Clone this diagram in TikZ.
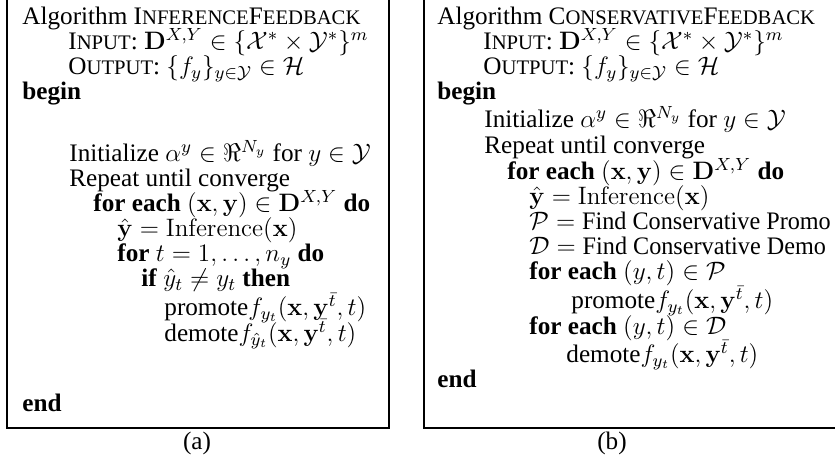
\RequirePackage{fix-cm}
\documentclass[tikz,border=0pt,11pt]{standalone}
\usepackage{graphicx}
\usepackage[no-math]{fontspec}
\setmainfont{Liberation Serif}
\newfontfamily\scf[Scale=0.82]{Liberation Serif}
\newcommand\SC[2]{#1{\scf #2}}
\newcommand\findtxt[1]{\scalebox{0.96}[1]{#1}}
\begin{document}
\begin{tikzpicture}[x=0.5pt,y=-0.5pt,
  ln/.style={anchor=base west, inner sep=0pt, font=\fontsize{12.6}{15}\selectfont},
  sublabel/.style={anchor=base, inner sep=0pt, font=\fontsize{12.6}{15}\selectfont},
  frame/.style={line width=1pt}]
\clip (0,0) rectangle (835,459);
\fill[white] (0,0) rectangle (835,459);
% frames
\draw[frame] (6.5,-10) -- (6.5,428) -- (389,428) -- (389,-10);
\draw[frame] (423.5,-10) -- (423.5,428) -- (850,428);
% ---------- (a)
\node[ln] (a1) at (22,25) {Algorithm \SC{I}{NFERENCE}\SC{F}{EEDBACK}};
\node[ln] (a2) at (68,50) {\SC{I}{NPUT}: $\mathbf{D}^{X,Y} \in \{\mathcal{X}^* \times \mathcal{Y}^*\}^m$};
\node[ln] (a3) at (68,75) {\SC{O}{UTPUT}: $\{f_y\}_{y\in\mathcal{Y}} \in \mathcal{H}$};
\node[ln] (a4) at (22,100) {\textbf{begin}};
\node[ln] (a5) at (69,162) {Initialize $\alpha^y \in \Re^{N_y}$ for $y \in \mathcal{Y}$};
\node[ln] (a6) at (69,187) {Repeat until converge};
\node[ln] (a7) at (93,212) {\textbf{for each} $(\mathbf{x},\mathbf{y}) \in \mathbf{D}^{X,Y}$ \textbf{do}};
\node[ln] (a8) at (117,237) {$\hat{\mathbf{y}} = \mathrm{Inference}(\mathbf{x})$};
\node[ln] (a9) at (117,262) {\textbf{for} $t = 1,\ldots,n_y$ \textbf{do}};
\node[ln] (a10) at (141,287) {\textbf{if} $\hat{y}_t \neq y_t$ \textbf{then}};
\node[ln] (a11) at (164,316) {promote$f_{y_t}(\mathbf{x},\mathbf{y}^{\bar{t}},t)$};
\node[ln] (a12) at (164,342) {demote$f_{\hat{y}_t}(\mathbf{x},\mathbf{y}^{\bar{t}},t)$};
\node[ln] (a13) at (22,412) {\textbf{end}};
\node[sublabel] (la) at (197,450) {(a)};
% ---------- (b)
\node[ln] (b1) at (437,25) {Algorithm \SC{C}{ONSERVATIVE}\SC{F}{EEDBACK}};
\node[ln] (b2) at (483,50) {\SC{I}{NPUT}: $\mathbf{D}^{X,Y} \in \{\mathcal{X}^* \times \mathcal{Y}^*\}^m$};
\node[ln] (b3) at (483,75) {\SC{O}{UTPUT}: $\{f_y\}_{y\in\mathcal{Y}} \in \mathcal{H}$};
\node[ln] (b4) at (437,100) {\textbf{begin}};
\node[ln] (b5) at (484,128) {Initialize $\alpha^y \in \Re^{N_y}$ for $y \in \mathcal{Y}$};
\node[ln] (b6) at (484,154) {Repeat until converge};
\node[ln] (b7) at (507,180) {\textbf{for each} $(\mathbf{x},\mathbf{y}) \in \mathbf{D}^{X,Y}$ \textbf{do}};
\node[ln] (b8) at (529,205) {$\hat{\mathbf{y}} = \mathrm{Inference}(\mathbf{x})$};
\node[ln] (b9) at (529,230) {$\mathcal{P} = \mbox{\findtxt{Find Conservative Promo}}$};
\node[ln] (b10) at (529,255) {$\mathcal{D} = \mbox{\findtxt{Find Conservative Demo}}$};
\node[ln] (b11) at (529,280) {\textbf{for each} $(y,t) \in \mathcal{P}$};
\node[ln] (b12) at (571,309) {promote$f_{y_t}(\mathbf{x},\mathbf{y}^{\bar{t}},t)$};
\node[ln] (b13) at (529,335) {\textbf{for each} $(y,t) \in \mathcal{D}$};
\node[ln] (b14) at (566,363) {demote$f_{y_t}(\mathbf{x},\mathbf{y}^{\bar{t}},t)$};
\node[ln] (b15) at (437,387) {\textbf{end}};
\node[sublabel] (lb) at (612,450) {(b)};
\end{tikzpicture}
\end{document}
